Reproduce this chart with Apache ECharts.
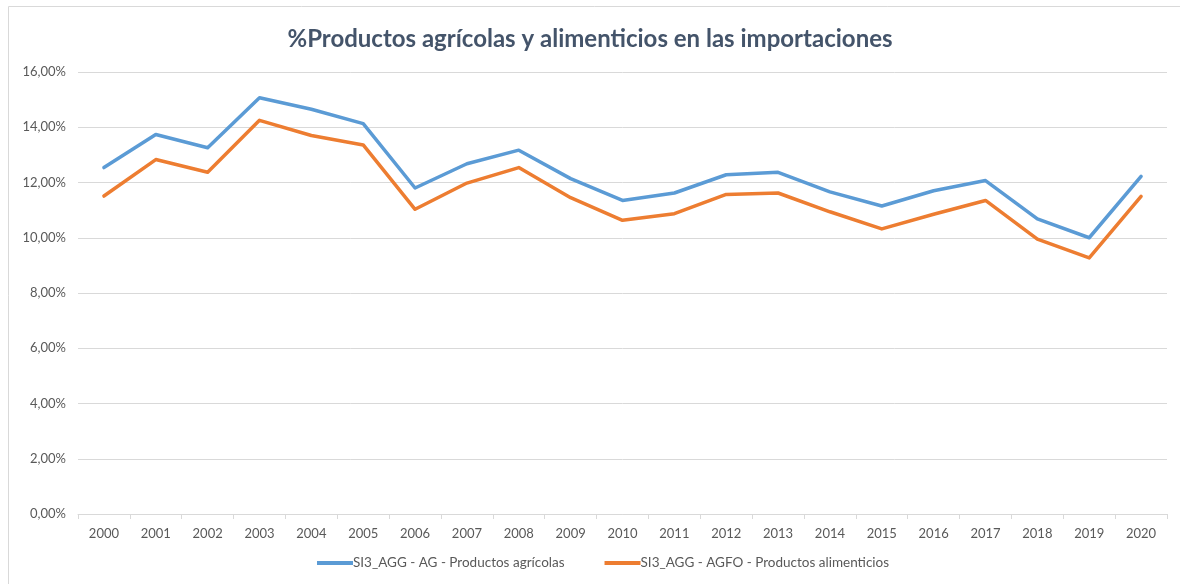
<!DOCTYPE html>
<html>
<head>
<meta charset="utf-8">
<script src="https://cdn.jsdelivr.net/npm/echarts@6/dist/echarts.min.js"></script>
<style>
  html, body { margin: 0; padding: 0; background: #fff; }
  #main { width: 1180px; height: 584px; }
</style>
</head>
<body>
<div id="main"></div>
<script>
// años y porcentajes
var years = ['2000','2001','2002','2003','2004','2005','2006','2007','2008','2009','2010',
  '2011','2012','2013','2014','2015','2016','2017','2018','2019','2020']
var agricolas = [12.54, 13.74, 13.26, 15.07, 14.65, 14.13, 11.80, 12.68, 13.17, 12.14, 11.35,
  11.62, 12.28, 12.37, 11.66, 11.15, 11.70, 12.07, 10.68, 10.00, 12.22]
var alimenticios = [11.51, 12.83, 12.37, 14.25, 13.70, 13.36, 11.03, 11.98, 12.54, 11.45, 10.63,
  10.87, 11.57, 11.62, 10.94, 10.32, 10.85, 11.35, 9.95, 9.27, 11.50]
var seriesNames = ['SI3_AGG - AG - Productos agrícolas', 'SI3_AGG - AGFO - Productos alimenticios']

var chart = echarts.init(document.getElementById('main'))
var font = 'Lato, "Open Sans", sans-serif'

var option = {
  animation: false,
  color: ['#5b9bd5', '#ed7d31'],
  textStyle: { fontFamily: font },
  graphic: [{
    type: 'rect',
    shape: { x: 8.5, y: 6.5, width: 1180, height: 600 },
    style: { fill: 'none', stroke: '#d9d9d9', lineWidth: 1 },
    silent: true
  }],
  title: {
    text: '%Productos agrícolas y alimenticios en las importaciones',
    left: 'center',
    top: 22,
    textStyle: { fontFamily: font, fontSize: 24, fontWeight: 'bold', color: '#44546a' }
  },
  grid: { left: 78, right: 13, top: 72, bottom: 70, containLabel: false },
  legend: {
    bottom: 9,
    left: 312,
    itemGap: 40,
    itemWidth: 36,
    itemHeight: 4,
    icon: 'rect',
    textStyle: { color: '#595959', fontSize: 13.5, fontFamily: font, padding: [0, 0, 0, -5] },
    data: seriesNames
  },
  xAxis: {
    type: 'category',
    data: years,
    boundaryGap: true,
    axisLine: { lineStyle: { color: '#d9d9d9', width: 1 } },
    axisTick: { show: true, length: 5, lineStyle: { color: '#d9d9d9' } },
    axisLabel: { color: '#595959', fontSize: 13, margin: 13 }
  },
  yAxis: {
    type: 'value',
    min: 0,
    max: 16,
    interval: 2,
    axisLine: { show: false },
    axisTick: { show: false },
    splitLine: { lineStyle: { color: '#d9d9d9', width: 1 } },
    axisLabel: {
      color: '#595959', fontSize: 13, margin: 12,
      formatter: function (v) { return v.toFixed(2).replace('.', ',') + '%' }
    }
  },
  series: [
    {
      name: seriesNames[0],
      type: 'line',
      data: agricolas,
      showSymbol: false,
      symbol: 'none',
      lineStyle: { width: 3.5, color: '#5b9bd5', join: 'round', cap: 'round' }
    },
    {
      name: seriesNames[1],
      type: 'line',
      data: alimenticios,
      showSymbol: false,
      symbol: 'none',
      lineStyle: { width: 3.5, color: '#ed7d31', join: 'round', cap: 'round' }
    }
  ]
}
chart.setOption(option)
</script>
</body>
</html>
